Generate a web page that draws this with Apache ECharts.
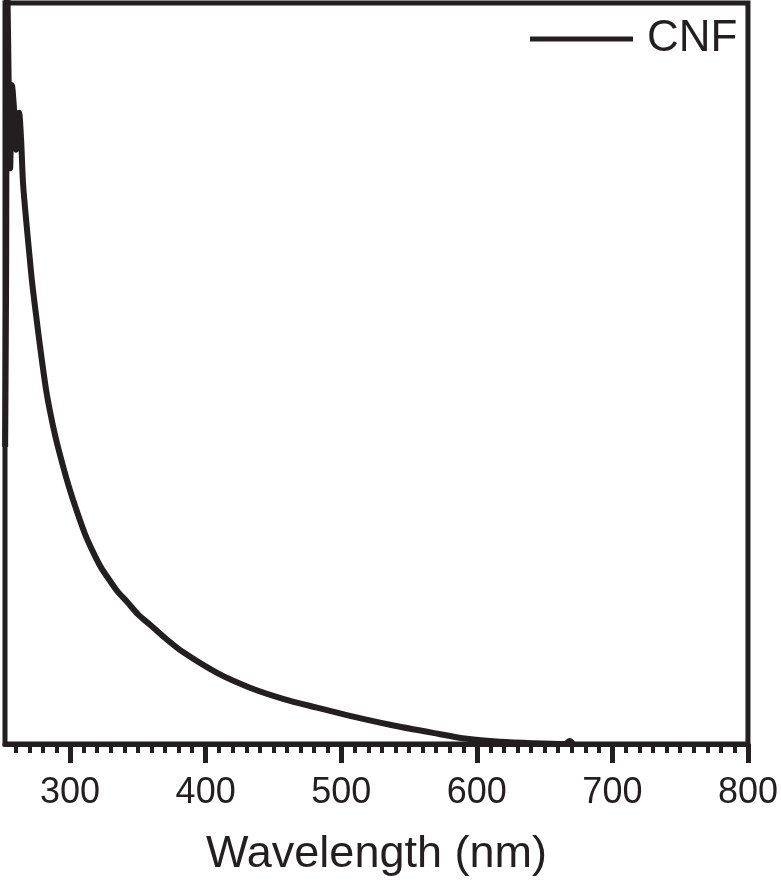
<!DOCTYPE html>
<html>
<head>
<meta charset="utf-8">
<script src="https://cdn.jsdelivr.net/npm/echarts@6/dist/echarts.min.js"></script>
<style>
  html, body { margin: 0; padding: 0; background: #fff; }
  #main { width: 781px; height: 890px; }
</style>
</head>
<body>
<div id="main"></div>
<script>
var chart = echarts.init(document.getElementById('main'), null, { renderer: 'canvas' });

// wavelength (nm) and absorbance (a.u.)
var wavelength = [252.1, 252.8, 253.5, 254.3, 255.8, 257.2, 258.7, 260.2, 262.4, 263.9,
    265.3, 267.6, 269.8, 272.0, 274.9, 278.6, 282.3, 285.3, 288.9, 292.6,
    298.5, 305.2, 311.1, 317.0, 322.9, 329.5, 335.4, 342.0, 350.1, 359.0,
    370.1, 383.3, 408.4, 432.7, 457.1, 482.2, 506.5, 536.0, 567.7, 592.8,
    617.1, 641.4, 665.0, 668.5, 670.9]
var absorbance = [0.401, 0.62, 1.05, 0.95, 0.777, 0.889, 0.856, 0.802, 0.852, 0.815,
    0.757, 0.707, 0.664, 0.623, 0.579, 0.526, 0.478, 0.448, 0.417, 0.390,
    0.351, 0.313, 0.283, 0.259, 0.238, 0.220, 0.205, 0.192, 0.175, 0.161,
    0.143, 0.124, 0.096, 0.076, 0.061, 0.049, 0.038, 0.026, 0.015, 0.007,
    0.003, 0.001, 0.0, 0.004, 0.0]

var majorTicks = [300, 400, 500, 600, 700, 800]
var minorTicks = []
for (var t = 260; t < 800; t += 10) {
    if (t % 100 !== 0) minorTicks.push(t)
}

var seriesName = 'CNF'
var ink = '#231f20'
var font = 'Liberation Sans, Arial, Helvetica, sans-serif'

var lineData = []
for (var i = 0; i < wavelength.length; i++) {
    lineData.push([wavelength[i], absorbance[i]])
}

chart.setOption({
    animation: false,
    backgroundColor: '#fff',
    grid: {
        left: 5,
        right: 33,
        top: 3,
        bottom: 146,
        show: true,
        borderColor: ink,
        borderWidth: 5,
        containLabel: false
    },
    legend: {
        data: [seriesName],
        left: 530,
        top: 14,
        padding: 0,
        icon: 'rect',
        itemWidth: 103,
        itemHeight: 5,
        itemStyle: { color: ink },
        textStyle: {
            color: ink,
            fontFamily: font,
            fontSize: 44,
            lineHeight: 50,
            padding: [0, 0, 0, 9]
        }
    },
    xAxis: [
        {
            type: 'value',
            min: 252,
            max: 800,
            position: 'bottom',
            name: 'Wavelength (nm)',
            nameLocation: 'middle',
            nameGap: 88,
            nameTextStyle: {
                color: ink,
                fontFamily: font,
                fontSize: 45
            },
            axisLine: { show: true, lineStyle: { color: ink, width: 5 } },
            axisTick: {
                show: true,
                length: 19,
                customValues: majorTicks,
                lineStyle: { color: ink, width: 5 }
            },
            axisLabel: {
                customValues: majorTicks,
                margin: 31,
                color: ink,
                fontFamily: font,
                fontSize: 36
            },
            splitLine: { show: false }
        },
        {
            type: 'value',
            min: 252,
            max: 800,
            position: 'bottom',
            axisLine: { show: false },
            axisTick: {
                show: true,
                length: 9,
                customValues: minorTicks,
                lineStyle: { color: ink, width: 4 }
            },
            axisLabel: { show: false },
            splitLine: { show: false }
        }
    ],
    yAxis: {
        type: 'value',
        min: 0,
        max: 1,
        axisLine: { show: false },
        axisTick: { show: false },
        axisLabel: { show: false },
        splitLine: { show: false }
    },
    series: [
        {
            name: seriesName,
            type: 'line',
            xAxisIndex: 0,
            data: lineData,
            symbol: 'none',
            smooth: 0.3,
            clip: true,
            lineStyle: { color: ink, width: 6 },
            itemStyle: { color: ink }
        }
    ]
});
</script>
</body>
</html>
